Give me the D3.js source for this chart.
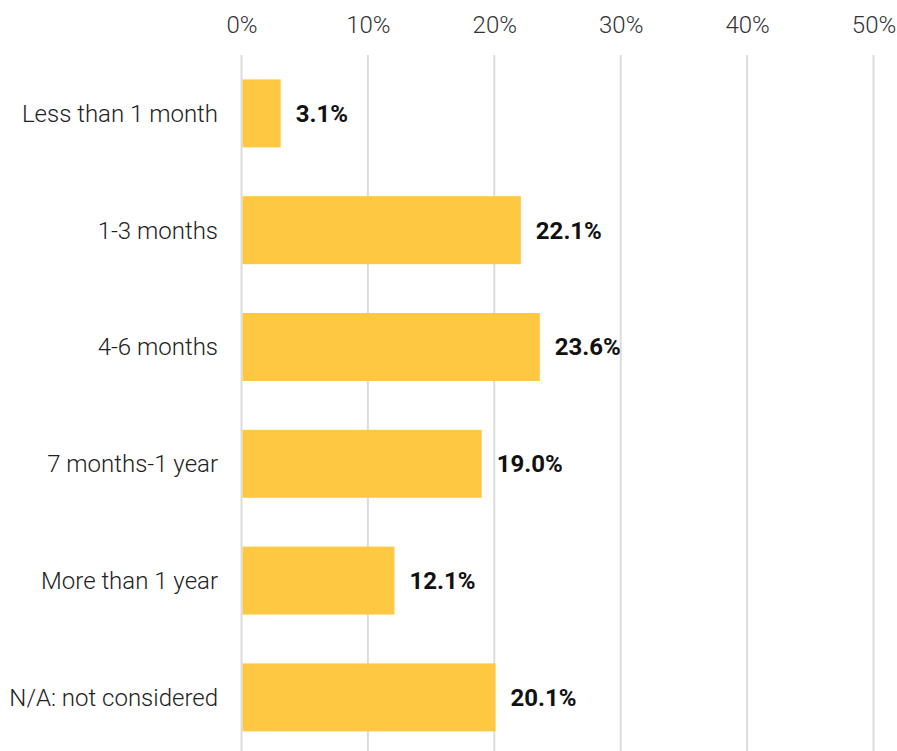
<!DOCTYPE html>
<html>
<head>
<meta charset="utf-8">
<script src="https://cdn.jsdelivr.net/npm/d3@7"></script>
<style>
  html, body { margin: 0; padding: 0; background: #fff; }
  svg { display: block; }
</style>
</head>
<body>
<svg id="chart" width="897" height="751"></svg>
<script>
const categories = ["Less than 1 month", "1-3 months", "4-6 months", "7 months-1 year", "More than 1 year", "N/A: not considered"];
const values = [3.1, 22.1, 23.6, 19.0, 12.1, 20.1];
const tickValues = [0, 10, 20, 30, 40, 50];

const svg = d3.select("#chart");
const plotLeft = 241.5, plotRight = 873.5, plotTop = 55, plotBottom = 755.8;

const x = d3.scaleLinear().domain([0, 50]).range([plotLeft, plotRight]);
const y = d3.scaleBand().domain(categories).range([plotTop, plotBottom])
  .paddingInner(0.418).paddingOuter(0.209);

// vertical gridlines
svg.append("g").selectAll("line").data(tickValues).join("line")
  .attr("x1", d => x(d)).attr("x2", d => x(d))
  .attr("y1", plotTop).attr("y2", 751)
  .attr("stroke", "#dcdcdc").attr("stroke-width", 2);

// top axis labels
const axis = svg.append("g").attr("transform", `translate(0,33)`)
  .call(d3.axisTop(x).tickValues(tickValues).tickFormat(d => d + "%").tickSize(0).tickPadding(0));
axis.select(".domain").remove();
axis.selectAll("text")
  .attr("font-family", "Roboto").attr("font-weight", 300)
  .attr("font-size", 24).attr("fill", "#333").attr("dy", "0");

// bars
svg.append("g").selectAll("rect").data(values).join("rect")
  .attr("x", x(0) + 1)
  .attr("y", (d, i) => y(categories[i]))
  .attr("width", d => x(d) - x(0) - 1)
  .attr("height", y.bandwidth())
  .attr("fill", "#FFC843");

// value labels
svg.append("g").selectAll("text").data(values).join("text")
  .attr("x", d => x(d) + 15)
  .attr("y", (d, i) => y(categories[i]) + y.bandwidth() / 2)
  .attr("dy", "0.35em")
  .attr("font-family", "Roboto").attr("font-weight", 700)
  .attr("font-size", 24).attr("fill", "#111")
  .text(d => d.toFixed(1) + "%");

// category labels
svg.append("g").selectAll("text").data(categories).join("text")
  .attr("x", 218)
  .attr("y", d => y(d) + y.bandwidth() / 2)
  .attr("dy", "0.35em")
  .attr("text-anchor", "end")
  .attr("font-family", "Roboto").attr("font-weight", 300)
  .attr("font-size", 24).attr("fill", "#222")
  .text(d => d);
</script>
</body>
</html>
